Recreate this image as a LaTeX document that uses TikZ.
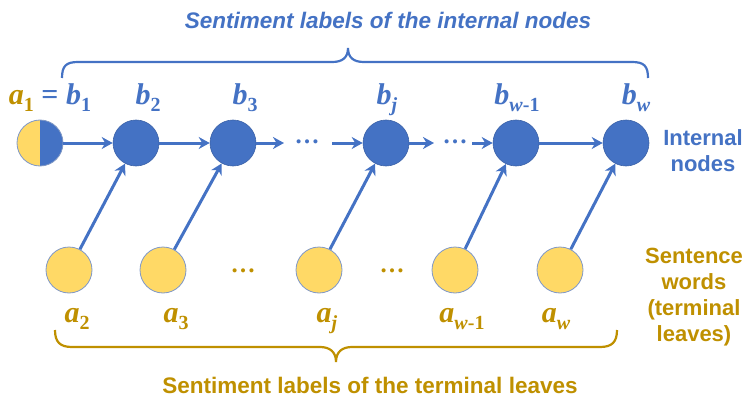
\documentclass[tikz,border=0pt]{standalone}
\usepackage{fontspec}
\setmainfont{Liberation Serif}
\newfontfamily\arialf{Liberation Sans}
\usetikzlibrary{arrows.meta}
\definecolor{cblue}{HTML}{4472C4}
\definecolor{cgold}{HTML}{BF9000}
\definecolor{cyel}{HTML}{FFD966}
\definecolor{cedge}{HTML}{7F98C8}
\newcommand{\vlab}[2]{\textbf{\textit{#1}}\raisebox{-7pt}{\fontsize{20}{20}\selectfont\textbf{#2}}}
\begin{document}
\begin{tikzpicture}[x=1pt,y=-1pt,
  inode/.style={circle,fill=cblue,draw=cblue!85!black,line width=0.6pt,minimum size=46pt,inner sep=0pt},
  leaf/.style={circle,fill=cyel,draw=cedge,line width=0.8pt,minimum size=46pt,inner sep=0pt},
  arr/.style={draw=cblue,line width=3pt,-{Stealth[length=11pt,width=12pt,inset=3.5pt]}},
  blab/.style={text=cblue,font=\fontsize{30}{30}\selectfont,anchor=base,inner sep=0pt},
  alab/.style={text=cgold,font=\fontsize{30}{30}\selectfont,anchor=base,inner sep=0pt},
  bdots/.style={text=cblue,font=\bfseries\fontsize{25}{25}\selectfont,inner sep=0pt},
  adots/.style={text=cgold,font=\bfseries\fontsize{25}{25}\selectfont,inner sep=0pt},
  sidetxt/.style={font=\arialf\bfseries\fontsize{22}{26}\selectfont,align=center,inner sep=0pt},
  brace/.style={line width=2.2pt}]
\useasboundingbox (0,0) rectangle (747,404);
% internal nodes
\node[leaf,draw=none] (a1) at (40,143) {};
\begin{scope}
\clip (40,100) rectangle (80,190);
\fill[cblue] (40,143) circle (23pt);
\end{scope}
\draw[cedge,line width=0.8pt] (40,143) circle (23pt);
\node[inode] (b2) at (136,143) {};
\node[inode] (b3) at (233,143) {};
\node[inode] (bj) at (386,143) {};
\node[inode] (bw1) at (516,143) {};
\node[inode] (bw) at (626,143) {};
% leaves
\node[leaf] (a2) at (69,270) {};
\node[leaf] (a3) at (163,270) {};
\node[leaf] (aj) at (319,270) {};
\node[leaf] (aw1) at (455,270) {};
\node[leaf] (aw) at (560,270) {};
% dots
\coordinate (d1e) at (284,143);
\node[bdots] (d1) at (307,142) {…};
\coordinate (d1s) at (332,143);
\coordinate (d2e) at (434,143);
\node[bdots] (d2) at (455,142) {…};
\coordinate (d2s) at (472,143);
\node[adots] (ld1) at (243,271) {…};
\node[adots] (ld2) at (392,271) {…};
% horizontal arrows
\draw[arr] (a1) -- (b2);
\draw[arr] (b2) -- (b3);
\draw[arr] (b3) -- (d1e);
\draw[arr] (d1s) -- (bj);
\draw[arr] (bj) -- (d2e);
\draw[arr] (d2s) -- (bw1);
\draw[arr] (bw1) -- (bw);
% leaf arrows
\draw[arr] (a2) -- (b2);
\draw[arr] (a3) -- (b3);
\draw[arr] (aj) -- (bj);
\draw[arr] (aw1) -- (bw1);
\draw[arr] (aw) -- (bw);
% labels top
\node[blab] (l1) at (50,104) {\textcolor{cgold}{\vlab{a}{1}} \textbf{=} \vlab{b}{1}};
\node[blab] (l2) at (148,104) {\vlab{b}{2}};
\node[blab] (l3) at (245,104) {\vlab{b}{3}};
\node[blab] (lj) at (387,104) {\vlab{b}{\textit{j}}};
\node[blab] (lw1) at (517,104) {\vlab{b}{\textit{w}-1}};
\node[blab] (lw) at (636,104) {\vlab{b}{\textit{w}}};
% labels bottom
\node[alab] (m2) at (77,322) {\vlab{a}{2}};
\node[alab] (m3) at (176,322) {\vlab{a}{3}};
\node[alab] (mj) at (327,322) {\vlab{a}{\textit{j}}};
\node[alab] (mw1) at (462,322) {\vlab{a}{\textit{w}-1}};
\node[alab] (mw) at (556,322) {\vlab{a}{\textit{w}}};
% braces
\draw[brace,cblue] (62,78) .. controls (62,66) and (66,62) .. (78,62) -- (332,62)
  .. controls (342,62) and (348,58) .. (348,48) .. controls (348,58) and (354,62) .. (364,62)
  -- (632,62) .. controls (644,62) and (648,66) .. (648,78);
\draw[brace,cgold] (55,330) .. controls (55,342) and (60,347) .. (72,347) -- (320,347)
  .. controls (330,347) and (336,352) .. (336,362) .. controls (336,352) and (342,347) .. (352,347)
  -- (600,347) .. controls (612,347) and (617,342) .. (617,330);
% titles
\node[text=cblue,font=\arialf\bfseries\itshape\fontsize{22.5}{22.5}\selectfont,inner sep=0pt] (ttop) at (388,20) {Sentiment labels of the internal nodes};
\node[text=cgold,font=\arialf\bfseries\fontsize{22.5}{22.5}\selectfont,inner sep=0pt] (tbot) at (370,385) {Sentiment labels of the terminal leaves};
\node[sidetxt,text=cblue] (tint) at (703,151) {Internal\\nodes};
\node[sidetxt,text=cgold] (tsen) at (694,297) {Sentence\\words\\(terminal\\leaves)};
\end{tikzpicture}
\end{document}
